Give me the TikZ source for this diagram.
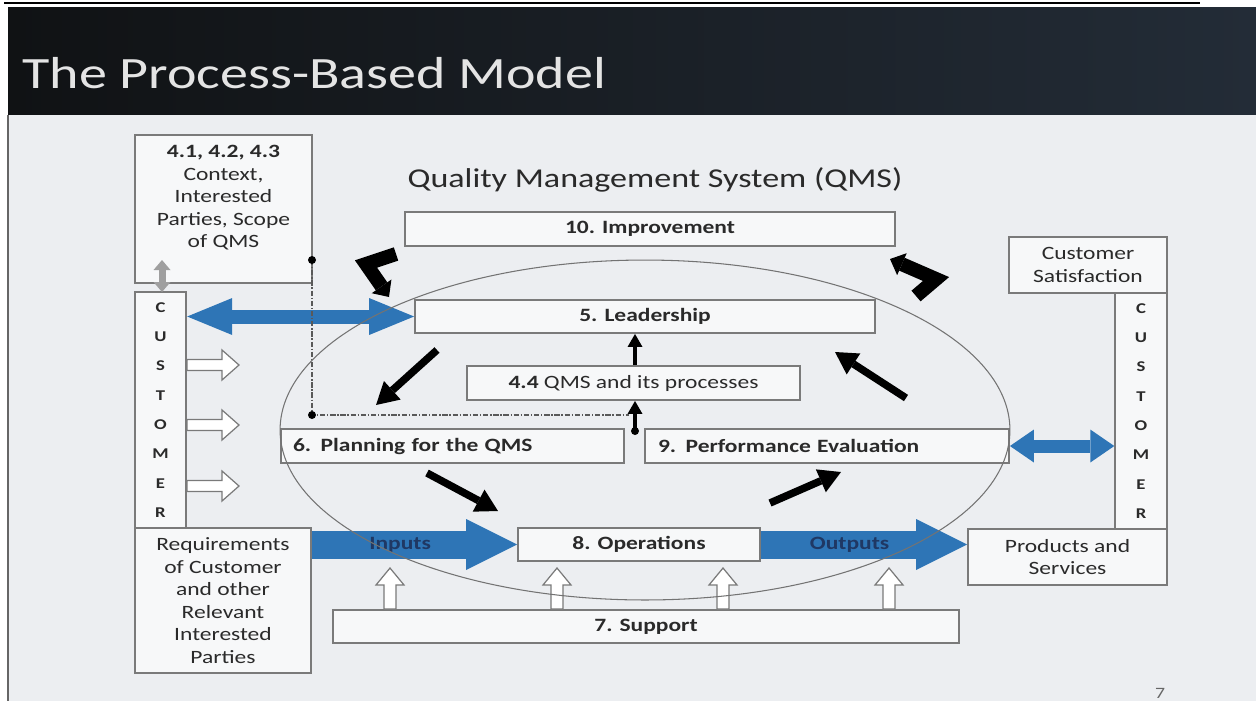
\documentclass[tikz,border=0pt]{standalone}
\usepackage{fontspec}
\setmainfont{Carlito}[FakeStretch=1.25]
\usetikzlibrary{arrows.meta}

\definecolor{slidebg}{HTML}{ECEEF1}
\definecolor{headdark}{HTML}{101214}
\definecolor{headslate}{HTML}{232C37}
\definecolor{titlegray}{HTML}{E4E4E4}
\definecolor{boxline}{HTML}{7A7A7A}
\definecolor{boxfill}{HTML}{F7F8F9}
\definecolor{qmsblue}{HTML}{2E75B6}
\definecolor{navytext}{HTML}{1F3864}
\definecolor{bodytext}{HTML}{2A2A2A}

\tikzset{
  box/.style={draw=boxline, fill=boxfill, line width=1.1pt, inner sep=0pt,
    text=bodytext, align=center, font=\fontsize{10.7}{12.8}\selectfont},
  boldbox/.style={box, font=\fontsize{10.7}{12.8}\selectfont\bfseries},
  boxtext/.style={inner sep=0pt, text=bodytext, align=center,
    font=\fontsize{10.7}{12.8}\selectfont},
  custbox/.style={box, minimum width=1.03cm, minimum height=4.72cm,
    font=\fontsize{8.5}{16.7}\selectfont\bfseries},
  flowarrow/.style={draw=qmsblue, line width=0.56cm,
    -{Triangle[width=1.02cm,length=1.02cm,line width=0pt]}},
  flowlabel/.style={text=navytext, font=\fontsize{10.7}{12.8}\selectfont\bfseries},
  linkarrow/.style n args={3}{draw=qmsblue, line width=#1,
    {Triangle[width=#2,length=#3,line width=0pt]}-{Triangle[width=#2,length=#3,line width=0pt]}},
  cyclearrow/.style={line width=0.15cm,
    -{Triangle[width=0.5cm,length=0.44cm,line width=0pt]}},
  bentarrow/.style={line width=0.28cm,
    -{Triangle[width=0.48cm,length=0.26cm,line width=0pt]}},
  smallarrow/.style={line width=0.07cm,
    -{Triangle[width=0.3cm,length=0.26cm,line width=0pt]}},
  scopearrow/.style={draw=gray!75, line width=0.14cm,
    {Triangle[width=0.34cm,length=0.2cm,line width=0pt]}-{Triangle[width=0.34cm,length=0.2cm,line width=0pt]}},
  hollowarrow/.style={draw=boxline, fill=white, line width=0.7pt},
  linkline/.style={draw=black!65, line width=0.8pt, densely dashdotted},
  qmsring/.style={draw=black!55, line width=0.6pt}
}

\begin{document}
\begin{tikzpicture}[x=0.02cm, y=-0.02cm]
\useasboundingbox (0,0) rectangle (1256,701);

% Slide background and title bar
\fill[white] (0,0) rectangle (1256,701);
\draw[black, line width=1.2pt] (4,3) -- (1200,3);
\shade[left color=headdark, right color=headslate] (8,7) rectangle (1256,115);
\fill[slidebg] (8,115) rectangle (1256,701);
\draw[black!60, line width=1.2pt] (8,115) -- (8,701);

% Titles
\node[anchor=base west, inner sep=0pt, text=titlegray, font=\fontsize{25.5}{30}\selectfont] (title) at (22,88) {The Process-Based Model};
\node[anchor=base, inner sep=0pt, text=bodytext, font=\fontsize{15.5}{18}\selectfont] (qmstitle) at (655,187) {Quality Management System (QMS)};

% Boxes on the left
\node[box, minimum width=3.54cm, minimum height=2.96cm] (context) at (223.5,209) {};
\node[boxtext, anchor=north] (contexttext) at (223.5,145) {\textbf{4.1, 4.2, 4.3}\\Context,\\Interested\\Parties, Scope\\of QMS};
\node[custbox] (custL) at (160.5,410) {C\\U\\S\\T\\O\\M\\E\\R};
\node[box, minimum width=3.52cm, minimum height=2.9cm] (require) at (223,600.5) {Requirements\\of Customer\\and other\\Relevant\\Interested\\Parties};

% Boxes on the right
\node[box, minimum width=3.16cm, minimum height=1.12cm] (satisfy) at (1088,265) {Customer\\Satisfaction};
\node[custbox] (custR) at (1141,411) {C\\U\\S\\T\\O\\M\\E\\R};
\node[box, minimum width=3.98cm, minimum height=1.12cm] (product) at (1067.5,557) {Products and\\Services};

% Clause boxes
\node[boldbox, minimum width=9.8cm, minimum height=0.68cm] (improve) at (650,229) {10. Improvement};
\node[boldbox, minimum width=9.2cm, minimum height=0.66cm] (lead) at (645,316.5) {5. Leadership};
\node[box, minimum width=6.66cm, minimum height=0.68cm] (qms44) at (633.5,383) {\textbf{4.4} QMS and its processes};
\node[boldbox, minimum height=0.68cm, text width=6.38cm, inner xsep=0.24cm, align=left] (plan) at (452.5,446) {6. Planning for the QMS};
\node[boldbox, minimum height=0.68cm, text width=6.76cm, inner xsep=0.26cm, align=left] (perf) at (827,446) {9. Performance Evaluation};
\node[boldbox, minimum width=4.84cm, minimum height=0.66cm] (ops) at (639,544.5) {8. Operations};
\node[boldbox, minimum width=12.52cm, minimum height=0.66cm] (support) at (646,626.5) {7. Support};

% Hollow arrows from the customer
\foreach \y in {365,425,486}
  \draw[hollowarrow] (187,\y-5.5) -- (222,\y-5.5) -- (222,\y-15) -- (239,\y) -- (222,\y+15) -- (222,\y+5.5) -- (187,\y+5.5) -- cycle;

% Hollow arrows from support
\foreach \x in {390,557,723,889}
  \draw[hollowarrow] (\x-6,609) -- (\x-6,585) -- (\x-14,585) -- (\x,568) -- (\x+14,585) -- (\x+6,585) -- (\x+6,609) -- cycle;

% Blue connectors
\draw[flowarrow] (require.east |- ops.west) -- node[flowlabel, pos=0.43] (inputs) {Inputs} (ops.west);
\draw[flowarrow] (ops.east) -- node[flowlabel, pos=0.43] (outputs) {Outputs} (product.west |- ops.east);
\draw[linkarrow={0.28cm}{0.74cm}{0.9cm}] (custL.east |- lead.west) -- (lead.west);
\draw[linkarrow={0.26cm}{0.66cm}{0.48cm}] (perf.east) -- (custR.west |- perf.east);

% Cycle arrows
\draw[cyclearrow] (437,350) -- (376,405);
\draw[cyclearrow] (427,473) -- (498,511);
\draw[cyclearrow] (770,503) -- (841,472);
\draw[cyclearrow] (906,398) -- (835,352);

% Bent arrows next to improvement
\draw[bentarrow] (396,254) -- (366,264) -- (389,297);
\draw[bentarrow] (916,296) -- (936,279) -- (890,259);

% Scope link
\draw[scopearrow] (162,260) -- (162,292);

% Arrows through 4.4
\coordinate (perfdot) at (635,431);
\draw[smallarrow] (qms44.north -| perfdot) -- (lead.south -| perfdot);
\draw[smallarrow] (perfdot) -- (perfdot |- qms44.south);
\fill (perfdot) circle (0.08cm);

% Dotted link from the context box
\coordinate (ctxdot) at (312,260);
\coordinate (plandot) at (312,415);
\draw[linkline] (ctxdot) -- (plandot) -- (629,415);
\fill (ctxdot) circle (0.08cm);
\fill (plandot) circle (0.08cm);

% QMS ring
\draw[qmsring] (645,430) ellipse [x radius=7.3cm, y radius=3.4cm];

% Slide number
\node[anchor=south, inner sep=0pt, text=black!60, font=\fontsize{9}{10}\selectfont] (slideno) at (1160,699) {7};

\end{tikzpicture}
\end{document}
